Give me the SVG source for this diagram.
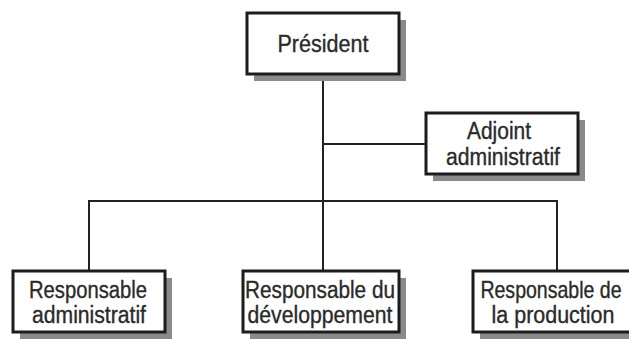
<svg xmlns="http://www.w3.org/2000/svg" width="629" height="339" viewBox="0 0 629 339">
<style>
.shadow{fill:#8a8a8a}
.box{fill:#fff;stroke:#1c1c1c;stroke-width:3}
.lbl{font-family:"Liberation Sans",Arial,sans-serif;font-size:23px;fill:#2a2a2a;stroke:#2a2a2a;stroke-width:0.35;text-anchor:middle}
.conn{stroke:#222;stroke-width:2;fill:none}
</style>
<rect width="629" height="339" fill="#fff"/>
<g id="connectors">
<path class="conn" d="M323,74 V270"/>
<path class="conn" d="M323,144 H426"/>
<path class="conn" d="M89,270 V201 H557 V270"/>
</g>
<g id="president">
<rect class="shadow" x="254" y="20" width="152" height="61"/>
<rect class="box" x="247" y="13" width="152" height="61"/>
<text class="lbl" x="323" y="52" textLength="91" lengthAdjust="spacingAndGlyphs">Président</text>
</g>
<g id="adjoint">
<rect class="shadow" x="433" y="120" width="152" height="61"/>
<rect class="box" x="426" y="113" width="152" height="61"/>
<text class="lbl" x="499" y="139" textLength="64" lengthAdjust="spacingAndGlyphs">Adjoint</text>
<text class="lbl" x="503" y="165" textLength="114" lengthAdjust="spacingAndGlyphs">administratif</text>
</g>
<g id="resp-admin">
<rect class="shadow" x="20" y="278" width="152" height="61"/>
<rect class="box" x="13" y="271" width="152" height="61"/>
<text class="lbl" x="88" y="298" textLength="118" lengthAdjust="spacingAndGlyphs">Responsable</text>
<text class="lbl" x="89" y="323" textLength="114" lengthAdjust="spacingAndGlyphs">administratif</text>
</g>
<g id="resp-dev">
<rect class="shadow" x="250" y="278" width="156" height="61"/>
<rect class="box" x="243" y="271" width="156" height="61"/>
<text class="lbl" x="320" y="298" textLength="150" lengthAdjust="spacingAndGlyphs">Responsable du</text>
<text class="lbl" x="320" y="323" textLength="145" lengthAdjust="spacingAndGlyphs">développement</text>
</g>
<g id="resp-prod">
<rect class="shadow" x="480" y="278" width="170" height="61"/>
<rect class="box" x="473" y="271" width="170" height="61"/>
<text class="lbl" transform="translate(551,298) scale(0.85,1)" x="0" y="0">Responsable de</text>
<text class="lbl" x="553" y="323" textLength="123" lengthAdjust="spacingAndGlyphs">la production</text>
</g>
</svg>
